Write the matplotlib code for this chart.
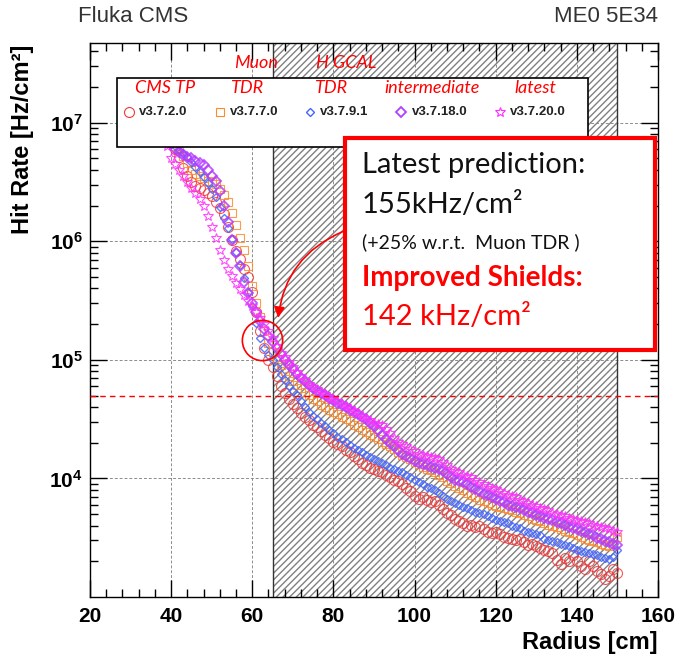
import numpy as np
import matplotlib
matplotlib.use("Agg")
import matplotlib.pyplot as plt
from matplotlib.patches import Rectangle
from matplotlib.ticker import LogLocator, MultipleLocator, NullFormatter

plt.rcParams["font.family"] = ["Liberation Sans", "DejaVu Sans"]
plt.rcParams["mathtext.fontset"] = "custom"
plt.rcParams["mathtext.rm"] = "Liberation Sans"
plt.rcParams["mathtext.bf"] = "Liberation Sans:bold"
plt.rcParams["hatch.linewidth"] = 1.0

# --------- data (log10 of hit rate in Hz/cm2, one value per cm) ---------
radius = list(range(36, 151))

v3720_log = [
    6.97, 6.94, 6.91, 6.88, 6.85, 6.78, 6.71, 6.62, 6.55, 6.50,
    6.47, 6.45, 6.43, 6.41, 6.38, 6.33, 6.28, 6.23, 6.12, 6.01,
    5.92, 5.85, 5.77, 5.70, 5.57, 5.40, 5.24, 5.10, 5.00, 4.94,
    4.86, 4.78, 4.72, 4.67, 4.63, 4.59, 4.55, 4.52, 4.49, 4.45,
    4.43, 4.40, 4.37, 4.34, 4.31, 4.29, 4.27, 4.24, 4.22, 4.19,
    4.16, 4.13, 4.11, 4.09, 4.08, 4.06, 4.05, 4.03, 4.01, 3.99,
    3.98, 3.95, 3.92, 3.89, 3.85, 3.83, 3.84, 3.82, 3.80, 3.81,
    3.78, 3.74, 3.71, 3.69, 3.66, 3.64, 3.62, 3.60, 3.61, 3.59,
    3.60, 3.57, 3.55, 3.54, 3.55, 3.53, 3.51, 3.50, 3.49, 3.48,
    3.49, 3.46, 3.44, 3.45, 3.43, 3.41, 3.40, 3.39, 3.37, 3.31,
    3.28, 3.33, 3.30, 3.35, 3.30, 3.26, 3.24, 3.30, 3.26, 3.22,
    3.19, 3.15, 3.18, 3.24, 3.20,
]
v3770_log = [
    6.95, 6.92, 6.89, 6.86, 6.83, 6.80, 6.76, 6.72, 6.66, 6.60,
    6.57, 6.55, 6.53, 6.51, 6.50, 6.48, 6.44, 6.39, 6.33, 6.24,
    6.14, 6.03, 5.93, 5.79, 5.62, 5.48, 5.36, 5.24, 5.14, 5.07,
    5.01, 4.96, 4.91, 4.86, 4.82, 4.79, 4.76, 4.73, 4.70, 4.67,
    4.65, 4.62, 4.60, 4.58, 4.56, 4.54, 4.52, 4.50, 4.48, 4.45,
    4.43, 4.41, 4.39, 4.37, 4.35, 4.33, 4.31, 4.29, 4.27, 4.25,
    4.22, 4.20, 4.18, 4.16, 4.14, 4.12, 4.10, 4.08, 4.07, 4.05,
    4.03, 4.01, 3.98, 3.96, 3.94, 3.92, 3.90, 3.88, 3.86, 3.84,
    3.82, 3.81, 3.79, 3.78, 3.77, 3.76, 3.75, 3.74, 3.73, 3.72,
    3.71, 3.69, 3.68, 3.66, 3.65, 3.64, 3.62, 3.61, 3.60, 3.59,
    3.57, 3.56, 3.55, 3.54, 3.52, 3.51, 3.49, 3.48, 3.47, 3.46,
    3.45, 3.44, 3.43, 3.45, 3.51,
]
v3791_log = [
    6.95, 6.92, 6.89, 6.85, 6.82, 6.80, 6.77, 6.74, 6.71, 6.67,
    6.63, 6.58, 6.54, 6.49, 6.44, 6.37, 6.29, 6.20, 6.11, 6.02,
    5.91, 5.80, 5.69, 5.57, 5.45, 5.31, 5.18, 5.10, 5.04, 5.00,
    4.94, 4.88, 4.83, 4.78, 4.74, 4.70, 4.65, 4.60, 4.56, 4.53,
    4.50, 4.47, 4.44, 4.41, 4.38, 4.35, 4.33, 4.31, 4.28, 4.26,
    4.24, 4.22, 4.20, 4.18, 4.16, 4.15, 4.13, 4.11, 4.09, 4.08,
    4.06, 4.05, 4.03, 4.01, 3.99, 3.97, 3.95, 3.93, 3.92, 3.90,
    3.88, 3.85, 3.83, 3.81, 3.79, 3.78, 3.76, 3.75, 3.73, 3.72,
    3.71, 3.70, 3.68, 3.67, 3.65, 3.64, 3.63, 3.62, 3.60, 3.59,
    3.58, 3.56, 3.55, 3.54, 3.53, 3.52, 3.49, 3.48, 3.47, 3.46,
    3.45, 3.44, 3.43, 3.41, 3.40, 3.39, 3.38, 3.37, 3.36, 3.35,
    3.34, 3.33, 3.32, 3.34, 3.40,
]
v37180_log = [
    6.98, 6.94, 6.90, 6.86, 6.82, 6.78, 6.75, 6.73, 6.71, 6.70,
    6.68, 6.66, 6.64, 6.60, 6.55, 6.51, 6.42, 6.30, 6.16, 6.01,
    5.90, 5.79, 5.66, 5.56, 5.48, 5.40, 5.33, 5.26, 5.20, 5.15,
    5.10, 5.05, 5.00, 4.96, 4.92, 4.88, 4.85, 4.82, 4.79, 4.76,
    4.74, 4.72, 4.70, 4.68, 4.66, 4.64, 4.62, 4.60, 4.58, 4.56,
    4.54, 4.52, 4.50, 4.47, 4.44, 4.41, 4.37, 4.33, 4.30, 4.27,
    4.24, 4.21, 4.19, 4.17, 4.15, 4.13, 4.12, 4.11, 4.10, 4.09,
    4.08, 4.06, 4.04, 4.01, 3.99, 3.98, 3.97, 3.95, 3.93, 3.91,
    3.89, 3.87, 3.86, 3.84, 3.83, 3.81, 3.80, 3.78, 3.77, 3.76,
    3.75, 3.73, 3.72, 3.71, 3.69, 3.68, 3.67, 3.66, 3.65, 3.63,
    3.62, 3.61, 3.59, 3.58, 3.57, 3.56, 3.55, 3.53, 3.52, 3.50,
    3.49, 3.47, 3.46, 3.45, 3.44,
]
v37200_log = [
    7.00, 6.95, 6.88, 6.80, 6.70, 6.65, 6.60, 6.55, 6.50, 6.45,
    6.41, 6.36, 6.30, 6.21, 6.12, 6.03, 5.93, 5.84, 5.77, 5.71,
    5.65, 5.60, 5.55, 5.50, 5.45, 5.40, 5.35, 5.30, 5.24, 5.18,
    5.12, 5.06, 5.02, 4.98, 4.94, 4.90, 4.86, 4.83, 4.80, 4.77,
    4.75, 4.73, 4.71, 4.69, 4.67, 4.65, 4.63, 4.61, 4.59, 4.57,
    4.55, 4.53, 4.51, 4.49, 4.47, 4.46, 4.45, 4.42, 4.38, 4.34,
    4.31, 4.29, 4.27, 4.25, 4.23, 4.21, 4.20, 4.19, 4.18, 4.17,
    4.16, 4.14, 4.11, 4.08, 4.06, 4.05, 4.03, 4.02, 4.01, 3.99,
    3.97, 3.95, 3.94, 3.92, 3.91, 3.89, 3.88, 3.86, 3.85, 3.84,
    3.82, 3.81, 3.79, 3.78, 3.77, 3.75, 3.74, 3.73, 3.71, 3.70,
    3.69, 3.68, 3.67, 3.66, 3.65, 3.64, 3.63, 3.62, 3.61, 3.60,
    3.59, 3.58, 3.57, 3.56, 3.55,
]

versions = ["v3.7.2.0", "v3.7.7.0", "v3.7.9.1", "v3.7.18.0", "v3.7.20.0"]
headers = ["CMS TP", "TDR", "TDR", "intermediate", "latest"]
limit_rate = 5e4
shield_region = (65, 150)

# (marker, size, edge width, colour)
styles = [
    ("o", 7.2, 0.8, "#ee3b3b"),
    ("s", 6.4, 0.8, "#ff8a2a"),
    ("D", 3.8, 1.0, "#4466ff"),
    ("D", 4.6, 1.3, "#b43cff"),
    ("*", 7.0, 0.8, "#ff2eff"),
]

# --------- figure ---------
fig = plt.figure(figsize=(6.77, 6.58), dpi=100)
ax = fig.add_axes([0.1329, 0.0927, 0.839, 0.842])
ax.set_xlim(20, 160)
ax.set_yscale("log")
ax.set_ylim(1e3, 4.7e7)

ax.axvspan(*shield_region, facecolor="none", edgecolor="#808080", hatch="/////", lw=0, zorder=0.3)
for xv in shield_region:
    ax.axvline(xv, color="#333333", lw=1.0, zorder=0.6)
ax.grid(True, which="major", color="#8c8c8c", ls=(0, (3, 2)), lw=0.7, zorder=0.5)
ax.set_axisbelow(True)

all_logs = [v3720_log, v3770_log, v3791_log, v37180_log, v37200_log]
for vals, (mk, ms, mew, col) in zip(all_logs, styles):
    ax.plot(radius, 10 ** np.array(vals), ls="none", marker=mk, ms=ms, mfc="none",
            mec=col, mew=mew, alpha=0.85, zorder=2)

ax.axhline(limit_rate, color="red", ls=(0, (4, 3)), lw=1.0, zorder=4)

# ticks, ROOT style
ax.xaxis.set_major_locator(MultipleLocator(20))
ax.xaxis.set_minor_locator(MultipleLocator(4))
ax.set_yticks([1e4, 1e5, 1e6, 1e7], labels=[r"$\mathbf{10^{%d}}$" % e for e in (4, 5, 6, 7)])
ax.yaxis.set_minor_locator(LogLocator(base=10, subs=np.arange(2, 10)))
ax.yaxis.set_minor_formatter(NullFormatter())
ax.tick_params(which="both", direction="in", top=True, right=True, width=1.0)
ax.tick_params(which="major", length=12, labelsize=15)
ax.tick_params(which="minor", length=6)
ax.tick_params(axis="x", pad=7)
ax.tick_params(axis="y", pad=5)
for lb in ax.get_xticklabels():
    lb.set_fontweight("bold")
for sp in ax.spines.values():
    sp.set_linewidth(1.0)

fig.text(658 / 677, 1 - 643 / 658, "Radius [cm]", ha="right", va="center", fontsize=17, fontweight="bold")
fig.text(23 / 677, 1 - 45 / 658, "Hit Rate [Hz/cm²]", rotation=90, ha="center", va="top",
         fontsize=17, fontweight="bold")
fig.text(78 / 677, 1 - 17 / 658, "Fluka CMS", ha="left", va="center", fontsize=16, color="#333333")
fig.text(658 / 677, 1 - 17 / 658, "ME0 5E34", ha="right", va="center", fontsize=16, color="#333333")

# --------- legend box ---------
tr = ax.transAxes
ax.add_patch(Rectangle((0.0475, 0.812), 0.8295, 0.125, transform=tr, facecolor="white",
                       edgecolor="black", lw=1.2, zorder=5))
hx = [0.132, 0.275, 0.424, 0.602, 0.785]
mx = [0.069, 0.229, 0.387, 0.548, 0.722]
for h, x in zip(headers, hx):
    ax.text(x, 0.919, h, transform=tr, ha="center", va="center", color="red", style="italic",
            fontsize=13, family=["Lato", "DejaVu Sans"], zorder=6)
for v, x, (mk, ms, mew, col) in zip(versions, mx, styles):
    ax.plot([x], [0.875], transform=tr, marker=mk, ms=ms, mfc="none", mec=col, mew=mew,
            clip_on=False, zorder=6)
    ax.text(x + 0.018, 0.875, v, transform=tr, ha="left", va="center", fontsize=9.5,
            fontweight="bold", color="#222222", zorder=6)
ax.text(0.292, 0.964, "Muon", transform=tr, ha="center", va="center", color="red", style="italic",
        fontsize=13, family=["Lato", "DejaVu Sans"], zorder=6)
ax.text(0.451, 0.964, "H GCAL", transform=tr, ha="center", va="center", color="red", style="italic",
        fontsize=13, family=["Lato", "DejaVu Sans"], zorder=6)

# --------- prediction box ---------
ax.add_patch(Rectangle((0.449, 0.446), 0.546, 0.3825, transform=tr, facecolor="white",
                       edgecolor="red", lw=3.0, zorder=5))
box_font = ["Lato", "DejaVu Sans"]
ax.text(0.479, 0.780, "Latest prediction:", transform=tr, va="center", fontsize=21,
        family=box_font, color="#111111", zorder=6)
ax.text(0.479, 0.708, "155kHz/cm²", transform=tr, va="center", fontsize=21,
        family=box_font, color="#111111", zorder=6)
ax.text(0.479, 0.641, "(+25% w.r.t.  Muon TDR )", transform=tr, va="center", fontsize=14,
        family=box_font, color="#111111", zorder=6)
ax.text(0.479, 0.576, "Improved Shields:", transform=tr, va="center", fontsize=20,
        family=box_font, fontweight="bold", color="red", zorder=6)
ax.text(0.479, 0.505, "142 kHz/cm²", transform=tr, va="center", fontsize=21,
        family=box_font, color="red", zorder=6)

ax.plot([62.4], [10 ** 5.17], marker="o", ms=29, mfc="none", mec="red", mew=1.2, zorder=6)
ax.annotate("", xy=(66.3, 2.14e5), xytext=(82.9, 1.23e6),
            arrowprops=dict(arrowstyle="-|>", color="red", lw=1.2, mutation_scale=16,
                            connectionstyle="arc3,rad=0.3"), zorder=7)

fig.savefig("out.png", dpi=100)
plt.close(fig)
